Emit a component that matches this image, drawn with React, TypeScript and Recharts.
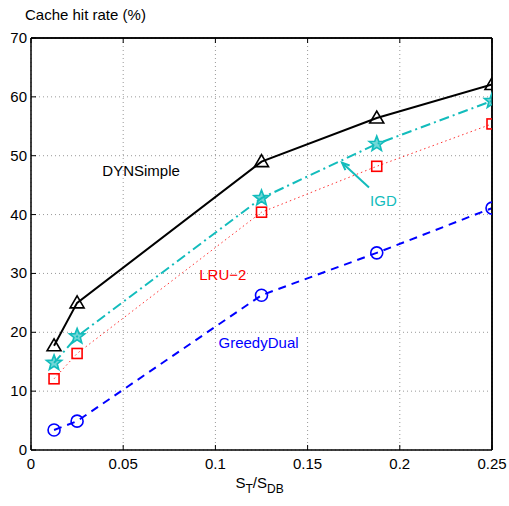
import { LineChart, Line, XAxis, YAxis, CartesianGrid, ReferenceDot, ReferenceLine, Label } from 'recharts'

// cache size relative to database size
const ratios = [0.0125, 0.025, 0.125, 0.1875, 0.25]

const dynSimple = [17.7, 25.0, 49.0, 56.4, 62.1]
const igd = [14.8, 19.3, 42.8, 52.0, 59.3]
const lru2 = [12.1, 16.4, 40.4, 48.2, 55.4]
const greedyDual = [3.4, 4.9, 26.3, 33.5, 41.1]

const xTicks = [0, 0.05, 0.1, 0.15, 0.2, 0.25]
const yTicks = [0, 10, 20, 30, 40, 50, 60, 70]

const data = ratios.map((r, i) => ({
  r,
  dyn: dynSimple[i],
  igd: igd[i],
  lru: lru2[i],
  gd: greedyDual[i],
}))

const FONT = 'Liberation Sans, Arial, Helvetica, sans-serif'
const FS = 15
const CYAN = '#12bcbc'

const Triangle = ({ cx, cy }: any) => (
  <polygon
    points={`${cx - 7},${cy + 5} ${cx + 7},${cy + 5} ${cx},${cy - 7}`}
    fill="none" stroke="#000" strokeWidth={1.6}
  />
)

const Square = ({ cx, cy }: any) => (
  <rect x={cx - 5} y={cy - 5} width={10} height={10} fill="none" stroke="#ff0000" strokeWidth={1.6} />
)

const Circle = ({ cx, cy }: any) => (
  <circle cx={cx} cy={cy} r={6} fill="none" stroke="#0000ff" strokeWidth={1.6} />
)

const Star = ({ cx, cy }: any) => {
  const pts: string[] = []
  for (let k = 0; k < 10; k++) {
    const a = -Math.PI / 2 + (k * Math.PI) / 5
    const rad = k % 2 === 0 ? 8 : 3.4
    pts.push(`${cx + rad * Math.cos(a)},${cy + rad * Math.sin(a)}`)
  }
  return <polygon points={pts.join(' ')} fill={CYAN} fillOpacity={0.6} stroke={CYAN} strokeWidth={1.6} />
}

// inward tick marks, MATLAB style
const BottomTick = ({ x, y, payload }: any) => (
  <g>
    <line x1={x} y1={y} x2={x} y2={y - 5} stroke="#000" />
    <text x={x} y={y + 19} textAnchor="middle" fontSize={FS} fontFamily={FONT} fill="#000">{payload.value}</text>
  </g>
)
const TopTick = ({ x, y }: any) => <line x1={x} y1={y} x2={x} y2={y + 5} stroke="#000" />
const LeftTick = ({ x, y, payload }: any) => (
  <g>
    <line x1={x} y1={y} x2={x + 5} y2={y} stroke="#000" />
    <text x={x - 4} y={y + 5} textAnchor="end" fontSize={FS} fontFamily={FONT} fill="#000">{payload.value}</text>
  </g>
)
const RightTick = ({ x, y }: any) => <line x1={x} y1={y} x2={x - 5} y2={y} stroke="#000" />

const Arrow = ({ x1, y1, x2, y2 }: any) => {
  // arrow drawn from the label end toward the curve
  const ang = Math.atan2(y1 - y2, x1 - x2)
  const len = 8
  const w = 0.4
  const hx1 = x1 - len * Math.cos(ang - w)
  const hy1 = y1 - len * Math.sin(ang - w)
  const hx2 = x1 - len * Math.cos(ang + w)
  const hy2 = y1 - len * Math.sin(ang + w)
  return (
    <g>
      <line x1={x1} y1={y1} x2={x2} y2={y2} stroke={CYAN} strokeWidth={2} />
      <polyline points={`${hx1},${hy1} ${x1},${y1} ${hx2},${hy2}`} fill="none" stroke={CYAN} strokeWidth={2} />
    </g>
  )
}

const textLabel = (value: string, fill: string) => ({
  value, position: 'center' as const, fill, fontSize: FS, fontFamily: FONT,
})

export default function App() {
  return (
    <div style={{ position: 'absolute', left: 0, top: 0, width: 509, height: 506, background: '#fff' }}>
      <LineChart width={509} height={506} data={data} margin={{ top: 37, right: 16, left: 0, bottom: 0 }}>
        <CartesianGrid stroke="#999" strokeDasharray="1 3" />
        <XAxis
          dataKey="r" type="number" domain={[0, 0.25]} ticks={xTicks} height={56}
          tickSize={0} tickMargin={0} tick={<BottomTick />} stroke="#000" strokeWidth={1.5}
          allowDataOverflow
        >
          <Label
            content={({ viewBox }: any) => (
              <text x={viewBox.x + viewBox.width / 2 - 26} y={viewBox.y + 38} fontSize={FS} fontFamily={FONT} fill="#000">
                S<tspan dy={5} fontSize={12}>T</tspan>
                <tspan dy={-5}>/S</tspan>
                <tspan dy={5} fontSize={12}>DB</tspan>
              </text>
            )}
          />
        </XAxis>
        <XAxis
          xAxisId="top" orientation="top" dataKey="r" type="number" domain={[0, 0.25]} ticks={xTicks}
          height={1} tickSize={0} tickMargin={0} tick={<TopTick />} stroke="#000" strokeWidth={1.5}
        />
        <YAxis
          type="number" domain={[0, 70]} ticks={yTicks} width={31}
          tickSize={0} tickMargin={0} tick={<LeftTick />} stroke="#000" strokeWidth={1.5}
        >
          <Label
            content={() => (
              <text x={25} y={20} fontSize={FS} fontFamily={FONT} fill="#000">Cache hit rate (%)</text>
            )}
          />
        </YAxis>
        <YAxis
          yAxisId="right" orientation="right" type="number" domain={[0, 70]} ticks={yTicks} width={1}
          tickSize={0} tickMargin={0} tick={<RightTick />} stroke="#000" strokeWidth={1.5}
        />

        <Line dataKey="gd" stroke="#0000ff" strokeWidth={2} strokeDasharray="8 6" dot={<Circle />} isAnimationActive={false} />
        <Line dataKey="lru" stroke="#ff3333" strokeWidth={1} strokeDasharray="1.5 3" dot={<Square />} isAnimationActive={false} />
        <Line dataKey="igd" stroke={CYAN} strokeWidth={2} strokeDasharray="10 4 2 4" dot={<Star />} isAnimationActive={false} />
        <Line dataKey="dyn" stroke="#000" strokeWidth={2} dot={<Triangle />} isAnimationActive={false} />

        {/* box frame on top and right */}
        <ReferenceLine y={70} stroke="#000" strokeWidth={1.5} />
        <ReferenceLine x={0.25} stroke="#000" strokeWidth={1.5} />

        <ReferenceLine
          segment={[{ x: 0.1687, y: 48.8 }, { x: 0.1833, y: 44.6 }]}
          shape={<Arrow />} ifOverflow="visible"
        />
        <ReferenceDot x={0.0597} y={47.5} r={0} ifOverflow="visible" label={textLabel('DYNSimple', '#000')} />
        <ReferenceDot x={0.1911} y={42.3} r={0} ifOverflow="visible" label={textLabel('IGD', CYAN)} />
        <ReferenceDot x={0.104} y={29.8} r={0} ifOverflow="visible" label={textLabel('LRU\u22122', '#ff0000')} />
        <ReferenceDot x={0.1234} y={18.3} r={0} ifOverflow="visible" label={textLabel('GreedyDual', '#0000ff')} />
      </LineChart>
    </div>
  )
}
